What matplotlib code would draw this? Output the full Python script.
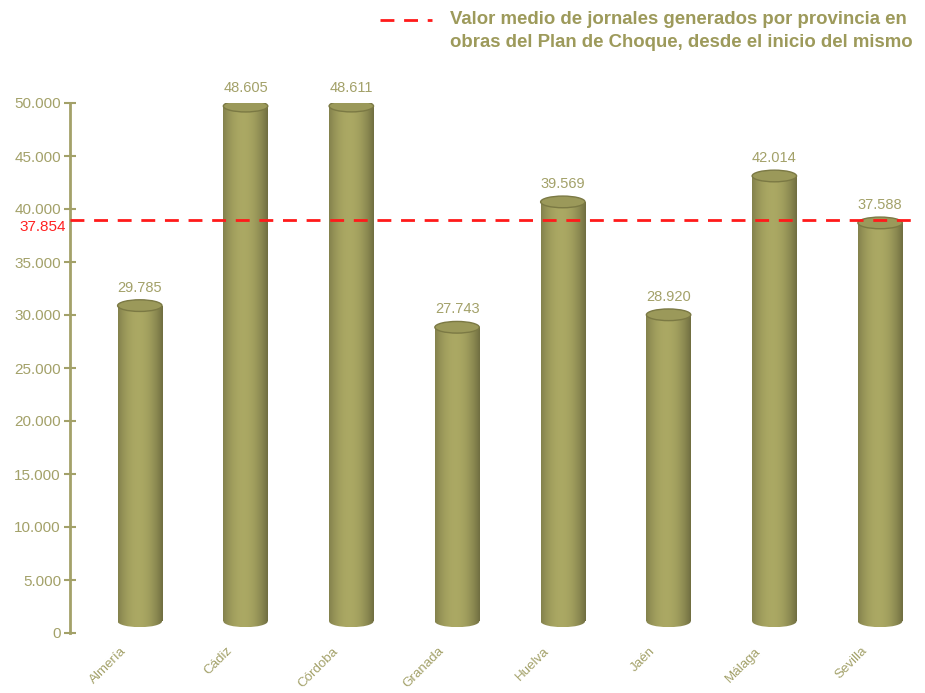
import matplotlib.pyplot as plt
import matplotlib.transforms as mtransforms
from matplotlib.patches import Ellipse, Rectangle
from matplotlib.lines import Line2D
import numpy as np

plt.rcParams['font.family'] = ['Liberation Sans', 'DejaVu Sans']

# Data
provincias = ['Almería', 'Cádiz', 'Córdoba', 'Granada', 'Huelva', 'Jaén', 'Málaga', 'Sevilla']
jornales = [29785, 48605, 48611, 27743, 39569, 28920, 42014, 37588]
media = 37854
etiquetas = ['29.785', '48.605', '48.611', '27.743', '39.569', '28.920', '42.014', '37.588']
yticks = [0, 5000, 10000, 15000, 20000, 25000, 30000, 35000, 40000, 45000, 50000]
ytick_labels = ['0', '5.000', '10.000', '15.000', '20.000', '25.000', '30.000',
                '35.000', '40.000', '45.000', '50.000']

olive = '#a3a169'
depth = 1100      # apparent 3D lift of the cylinders
bar_w = 0.42
ell_h = 1100

fig = plt.figure(figsize=(9.25, 6.93), dpi=100)
ax = fig.add_axes([70 / 925, 1 - 633 / 693, (915 - 70) / 925, 530 / 693])
ax.set_xlim(-0.66, 7.33)
ax.set_ylim(0, 50000)

# cylinder shading: dark edges, broad light band left of centre
xs = np.linspace(0, 1, 200)
shade = 1 - 0.35 * ((xs - 0.45) / 0.55) ** 2
base = np.array([0.67, 0.66, 0.39])
grad = np.clip(shade[None, :, None] * base[None, None, :], 0, 1)

for i, v in enumerate(jornales):
    x0 = i - bar_w / 2
    y0 = depth
    y1 = v + depth
    rect = Rectangle((x0, y0), bar_w, y1 - y0, transform=ax.transData)
    im = ax.imshow(grad, extent=(x0, x0 + bar_w, y0 - ell_h / 2, y1), aspect='auto',
                   zorder=2, interpolation='bilinear')
    im.set_clip_path(rect)
    bot = Ellipse((i, y0), bar_w, ell_h, facecolor='none', edgecolor='none', zorder=2)
    ax.add_patch(bot)
    im2 = ax.imshow(grad, extent=(x0, x0 + bar_w, y0 - ell_h / 2, y0 + ell_h / 2),
                    aspect='auto', zorder=2, interpolation='bilinear')
    im2.set_clip_path(bot)
    # top cap
    ax.add_patch(Ellipse((i, y1), bar_w, ell_h, facecolor='#9b995a',
                         edgecolor='#7b7944', linewidth=1.0, zorder=3))
    ax.annotate(etiquetas[i], (i, y1), xytext=(0, 8), textcoords='offset points',
                ha='center', va='bottom', fontsize=10.5, color=olive,
                annotation_clip=False)

# mean line
ax.axhline(media + depth, color='#ff1a1a', linestyle=(0, (5, 3.5)), linewidth=2, zorder=4)
ax.text(-0.7, media + depth, '37.854', transform=ax.transData, ha='right', va='top',
        fontsize=11, color='#ff2020')

ax.set_xlim(-0.66, 7.33)
ax.set_ylim(0, 50000)

ax.set_yticks(yticks)
ax.set_yticklabels(ytick_labels)
ax.set_xticks([])

# category labels, rotated, top-right corner just left of each bar
trans = ax.get_xaxis_transform() + mtransforms.ScaledTranslation(-11 / 100, -12 / 100,
                                                                  fig.dpi_scale_trans)
for i, name in enumerate(provincias):
    ax.text(i, 0, name, transform=trans, rotation=45, ha='right', va='top',
            fontsize=9.6, color=olive, clip_on=False)

ax.tick_params(axis='y', direction='inout', length=9, width=1.5, colors=olive,
               labelsize=11, pad=2)
for lab in ax.get_yticklabels():
    lab.set_color(olive)

for s in ['top', 'right', 'bottom']:
    ax.spines[s].set_visible(False)
ax.spines['left'].set_color(olive)
ax.spines['left'].set_linewidth(2)

# legend
fig.add_artist(Line2D([380 / 925, 432 / 925], [1 - 20 / 693, 1 - 20 / 693],
                      color='#ff1a1a', linestyle=(0, (5, 3.5)), linewidth=2))
fig.text(450 / 925, 1 - 11 / 693,
         'Valor medio de jornales generados por provincia en\nobras del Plan de Choque, desde el inicio del mismo',
         ha='left', va='top', fontsize=13.4, fontweight='bold', color='#9d9a5b',
         linespacing=1.45)

fig.savefig('out.png', dpi=100)
